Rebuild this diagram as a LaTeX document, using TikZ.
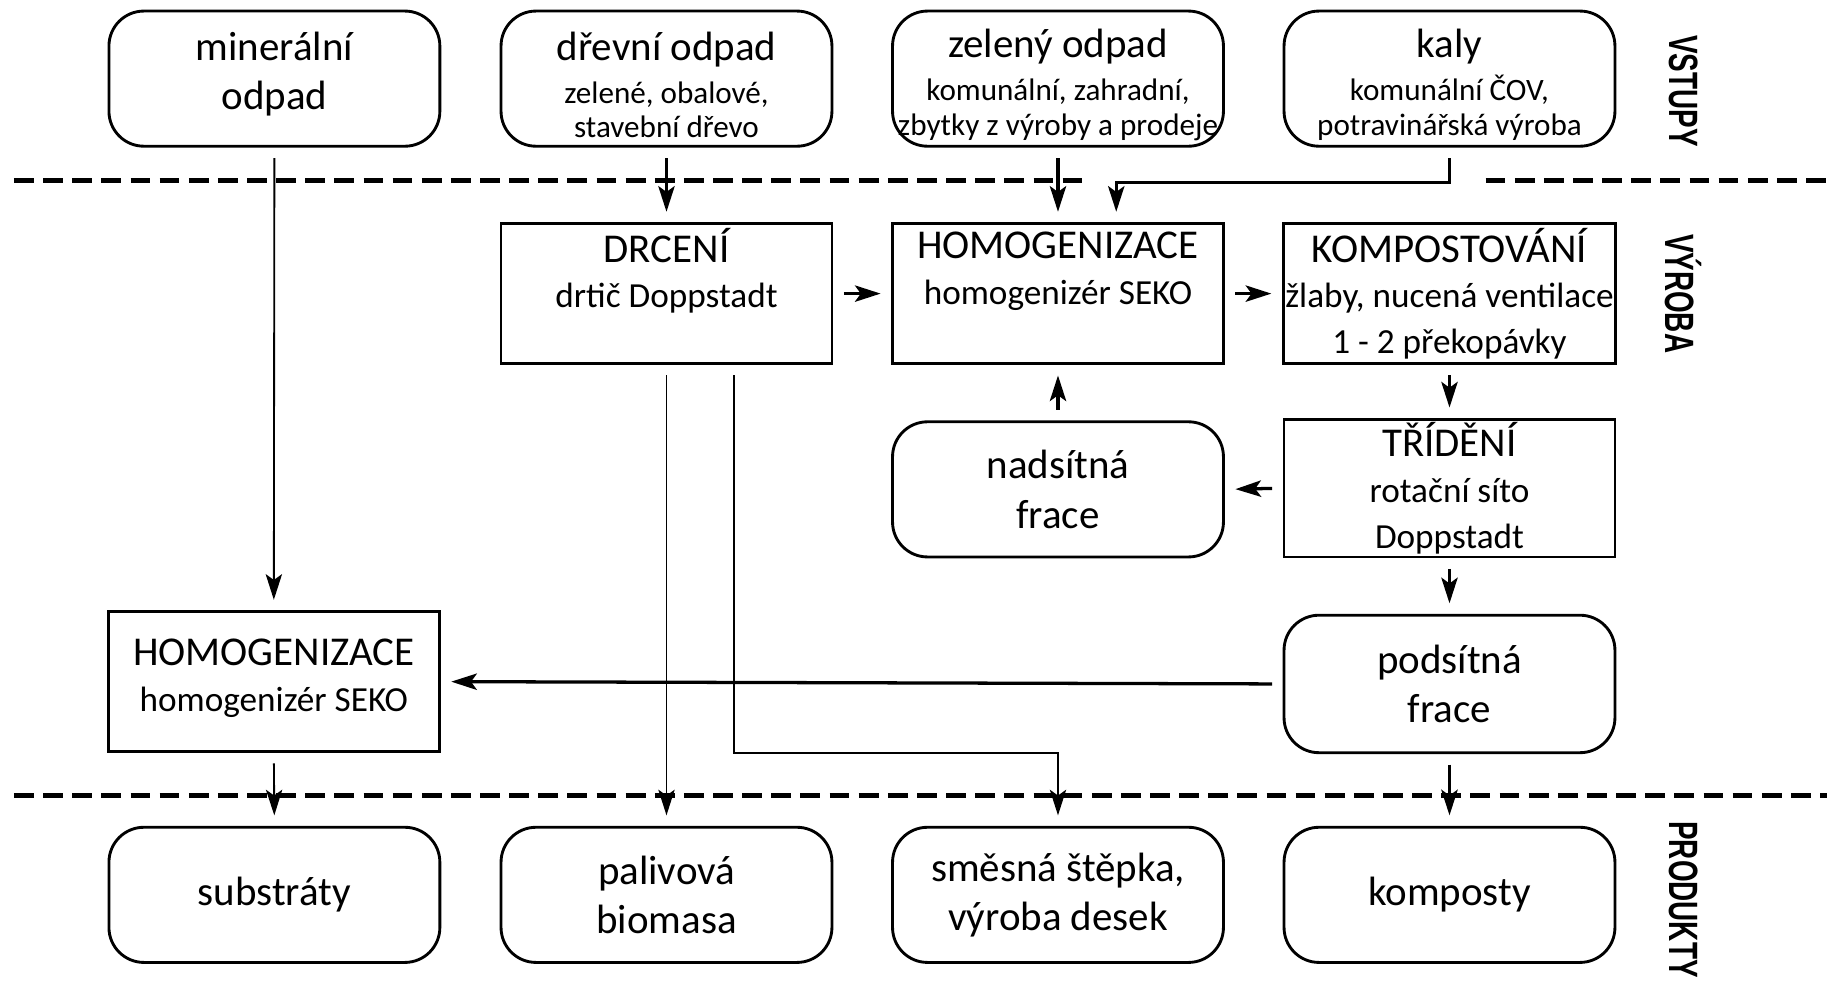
\documentclass[tikz,border=0pt]{standalone}
\usepackage{fontspec}
\usepackage{graphicx}
\setmainfont{Carlito}
\newfontfamily\fazefont{Liberation Sans}
\usetikzlibrary{arrows.meta}
\newcommand{\drobne}{\fontsize{7.6}{8.6}\selectfont}
\newcommand{\stroj}{\fontsize{8.6}{10.6}\selectfont}
\tikzset{
	vstup/.style={draw,line width=0.7pt,rounded corners=0.3cm,minimum width=2.84cm,minimum height=1.16cm,inner sep=0.5pt,align=center,font=\fontsize{10}{12}\selectfont},
	operace/.style={draw,line width=0.7pt,minimum width=2.84cm,minimum height=1.2cm,inner sep=0.5pt,align=center,font=\fontsize{10}{11.2}\selectfont},
	tok/.style={line width=0.8pt,-{Stealth[length=2.2mm,width=1.4mm,inset=0.5mm]},shorten <=0.9mm,shorten >=0.9mm},
	tenky/.style={tok,line width=0.45pt},
	hranice/.style={line width=1.2pt,dash pattern=on 1.7mm off 0.8mm},
	faze/.style={rotate=-90,inner sep=0pt,font=\fazefont\bfseries\fontsize{10}{12}\selectfont}
}
\begin{document}
\begin{tikzpicture}
	\useasboundingbox (0,0) rectangle (15.68,-8.44);
	% vstupy
	\node[vstup] (mineral) at (2.355,-0.675) {minerální\\odpad\\[-8pt]\mbox{}};
	\node[vstup] (drevni) at (5.72,-0.675) {\mbox{}\\[-2pt]dřevní odpad\\[-1.5pt]\drobne zelené, obalové,\\[-3.5pt]\drobne stavební dřevo};
	\node[vstup] (zeleny) at (9.08,-0.675) {\mbox{}\\[-2pt]zelený odpad\\[-1.5pt]\drobne komunální, zahradní,\\[-3.5pt]\drobne zbytky z výroby a prodeje};
	\node[vstup] (kaly) at (12.44,-0.675) {\mbox{}\\[-2pt]kaly\\[-1.5pt]\drobne komunální ČOV,\\[-3.5pt]\drobne potravinářská výroba};
	% vyroba
	\node[operace] (drceni) at (5.72,-2.52) {DRCENÍ\\\stroj drtič Doppstadt\\\stroj\vphantom{1p}};
	\node[operace] (homoA) at (9.08,-2.52) {HOMOGENIZACE\\\stroj homogenizér SEKO\\\stroj\vphantom{1p}};
	\node[operace] (kompost) at (12.44,-2.52) {KOMPOSTOVÁNÍ\\\stroj žlaby, nucená ventilace\\\stroj 1 - 2 překopávky};
	\node[operace,minimum height=1.18cm] (trideni) at (12.44,-4.19) {TŘÍDĚNÍ\\\stroj rotační síto\\\stroj Doppstadt};
	\node[vstup] (nadsit) at (9.08,-4.20) {nadsítná\\frace};
	\node[vstup,minimum height=1.18cm] (podsit) at (12.44,-5.87) {podsítná\\frace};
	\node[operace] (homoB) at (2.35,-5.85) {HOMOGENIZACE\\\stroj homogenizér SEKO\\[-8pt]\mbox{}};
	% produkty
	\node[vstup] (substraty) at (2.355,-7.68) {substráty};
	\node[vstup] (palivo) at (5.72,-7.68) {palivová\\biomasa};
	\node[vstup] (stepka) at (9.08,-7.68) {směsná štěpka,\\výroba desek};
	\node[vstup] (komposty) at (12.44,-7.68) {komposty};
	% faze
	\node[faze] (vstupy) at (14.45,-0.78) {\scalebox{0.68}[1]{VSTUPY}};
	\node[faze] (vyroba) at (14.45,-2.52) {\scalebox{0.68}[1]{VÝROBA}};
	\node[faze] (produkty) at (14.45,-7.72) {\scalebox{0.68}[1]{PRODUKTY}};
	% hranice
	\draw[hranice] (0.12,-1.55) -- (9.30,-1.55);
	\draw[hranice] (12.75,-1.55) -- (15.68,-1.55);
	\draw[hranice] (0.12,-6.83) -- (15.68,-6.83);
	% toky
	\draw[tenky] (mineral.south) -- (homoB.north);
	\draw[tok] (drevni.south) -- (drceni.north);
	\draw[tok] (zeleny.south) -- (homoA.north);
	\draw[tok] (kaly.south) -- ++(0,-0.3) -| ([xshift=5mm]homoA.north);
	\draw[tok] (drceni.east) -- (homoA.west);
	\draw[tok] (homoA.east) -- (kompost.west);
	\draw[tok] (kompost.south) -- (trideni.north);
	\draw[tok] (trideni.west) -- (nadsit.east);
	\draw[tok] (nadsit.north) -- (homoA.south);
	\draw[tok] (trideni.south) -- (podsit.north);
	\draw[tok] (podsit.west) -- (homoB.east);
	\draw[tenky] (homoB.south) -- (substraty.north);
	\draw[tenky] (drceni.south) -- (palivo.north);
	\draw[tenky] ([xshift=5.8mm]drceni.south) -- ++(0,-3.33) -| (stepka.north);
	\draw[tok] (podsit.south) -- (komposty.north);
\end{tikzpicture}
\end{document}
